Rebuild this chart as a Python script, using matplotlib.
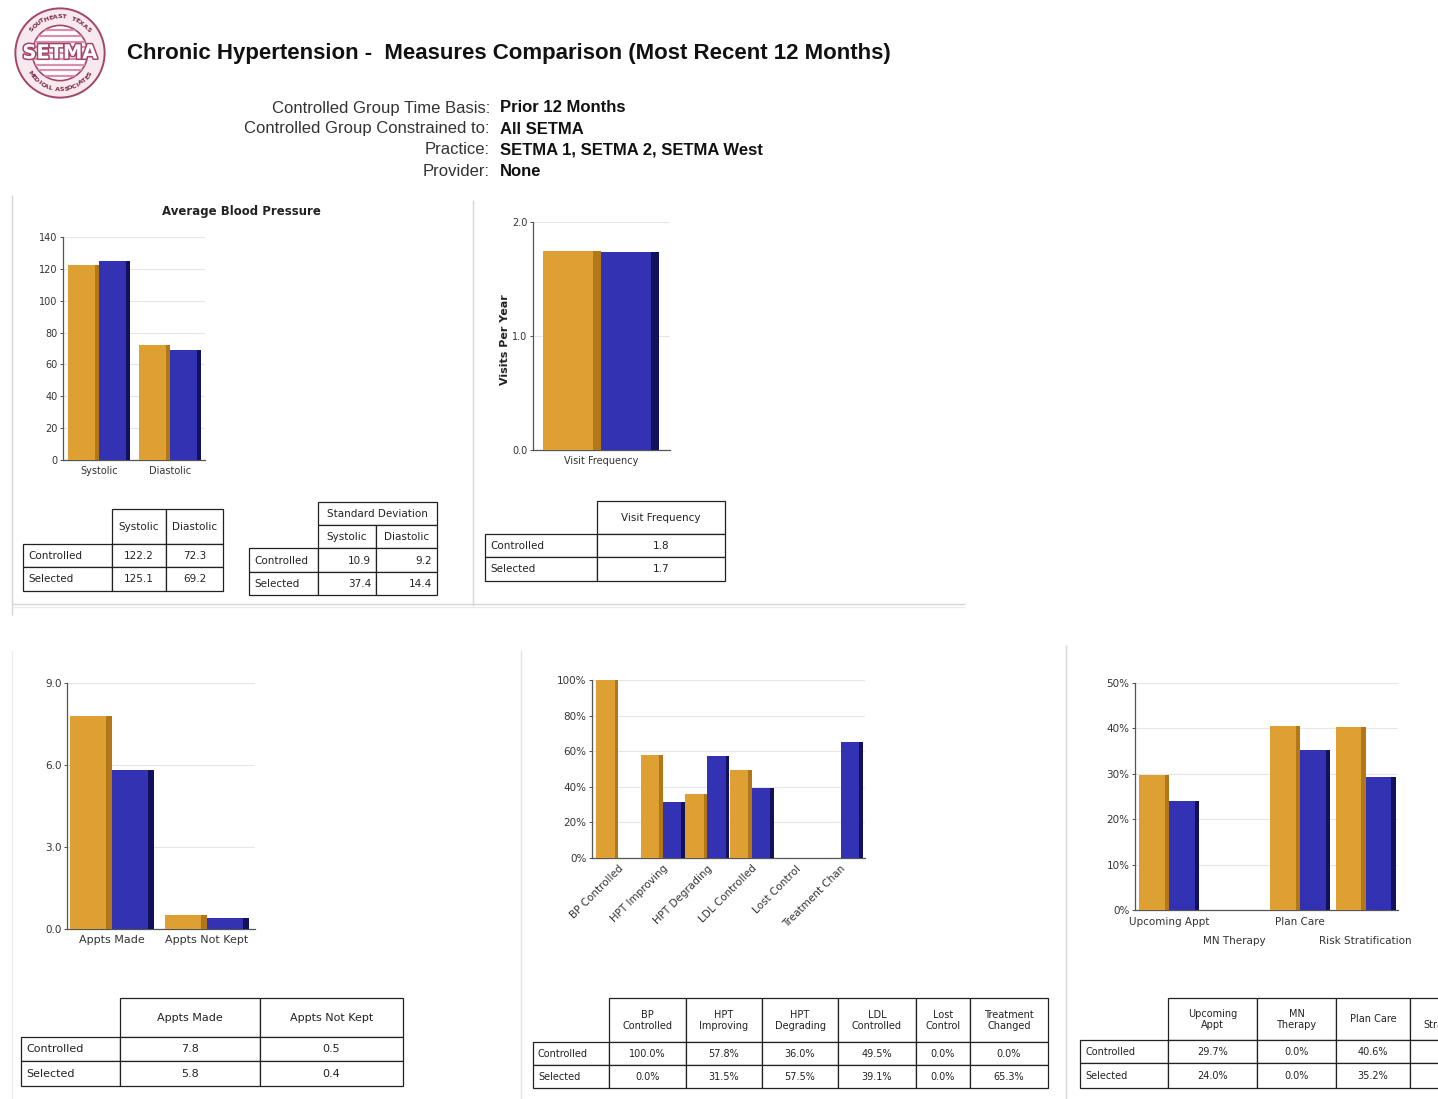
import numpy as np
import matplotlib.pyplot as plt
import matplotlib.patheffects as pe
from matplotlib.patches import Rectangle, Circle

W, H = 1438, 1099

ORANGE = '#DFA033'
ORANGE_EDGE = '#B27818'
BLUE = '#3232B2'
BLUE_EDGE = '#12125C'
INK = '#222222'
FRAME = '#d6d6d6'

# ---- data ----
row_labels = ['Controlled', 'Selected']

bp_labels = ['Systolic', 'Diastolic']
bp_controlled = [122.2, 72.3]
bp_selected = [125.1, 69.2]
sd_controlled = [10.9, 9.2]
sd_selected = [37.4, 14.4]

visit_labels = ['Visit Frequency']
visit_controlled = [1.75]
visit_selected = [1.74]

appt_labels = ['Appts Made', 'Appts Not Kept']
appt_controlled = [7.8, 0.5]
appt_selected = [5.8, 0.4]

measure_labels = ['BP Controlled', 'HPT Improving', 'HPT Degrading',
                  'LDL Controlled', 'Lost Control', 'Treatment Chan']
measure_heads = ['BP\nControlled', 'HPT\nImproving', 'HPT\nDegrading',
                 'LDL\nControlled', 'Lost\nControl', 'Treatment\nChanged']
measure_controlled = [100.0, 57.8, 36.0, 49.5, 0.0, 0.0]
measure_selected = [0.0, 31.5, 57.5, 39.1, 0.0, 65.3]

care_labels = ['Upcoming Appt', 'MN Therapy', 'Plan Care', 'Risk Stratification']
care_heads = ['Upcoming\nAppt', 'MN\nTherapy', 'Plan Care', 'Risk\nStratification']
care_controlled = [29.7, 0.0, 40.6, 40.4]
care_selected = [24.0, 0.0, 35.2, 29.3]

info_keys = ['Controlled Group Time Basis:', 'Controlled Group Constrained to:',
             'Practice:', 'Provider:']
info_values = ['Prior 12 Months', 'All SETMA', 'SETMA 1, SETMA 2, SETMA West', 'None']


def box(x0, y0, x1, y1):
    """pixel box (top-left origin) -> figure fraction rect"""
    return [x0 / W, 1 - y1 / H, (x1 - x0) / W, (y1 - y0) / H]


fig = plt.figure(figsize=(W / 100, H / 100), dpi=100)
fig.patch.set_facecolor('white')

page = fig.add_axes([0, 0, 1, 1])
page.set_xlim(0, W)
page.set_ylim(H, 0)
page.axis('off')


def hline(y, x0, x1, color=FRAME, lw=1.0):
    page.plot([x0, x1], [y, y], color=color, lw=lw, solid_capstyle='butt')


def vline(x, y0, y1, color=FRAME, lw=1.0):
    page.plot([x, x], [y0, y1], color=color, lw=lw, solid_capstyle='butt')


# panel frames
vline(12, 195, 615)
vline(473, 200, 606)
hline(604, 12, 965)
hline(607, 12, 965, color='#ececec')
vline(12, 650, 1099, color='#ececec')
vline(521, 650, 1099, color='#e4e4e4')
vline(1066, 645, 1099)

# ---- logo ----
logo = fig.add_axes(box(14, 7, 106, 99))
logo.set_xlim(-1, 1)
logo.set_ylim(-1, 1)
logo.set_aspect('equal')
logo.axis('off')
mauve = '#a3456a'
logo.add_patch(Circle((0, 0), 0.97, fc='#f7e9ee', ec=mauve, lw=1.4))
inner = Circle((0, 0), 0.6, fc='white', ec=mauve, lw=1.2)
logo.add_patch(inner)
for yy in np.linspace(-0.5, 0.5, 9):
    ln, = logo.plot([-0.62, 0.62], [yy, yy], color='#d98fab', lw=1.6)
    ln.set_clip_path(inner)
logo.text(0, 0.0, 'SETMA', ha='center', va='center', fontsize=14, fontweight='bold',
          color='white', path_effects=[pe.withStroke(linewidth=2.2, foreground=mauve)])


def arc_text(text, r, a0, a1, upper=True):
    angs = np.linspace(a0, a1, len(text))
    for ch, a in zip(text, angs):
        rad = np.deg2rad(a)
        rot = a - 90 if upper else a + 90
        logo.text(r * np.cos(rad), r * np.sin(rad), ch, rotation=rot, ha='center',
                  va='center', fontsize=4.6, fontweight='bold', color='#7a2a48')


arc_text('SOUTHEAST TEXAS', 0.79, 140, 40, upper=True)
arc_text('MEDICAL ASSOCIATES', 0.79, 215, 325, upper=False)

# ---- heading ----
page.text(127, 53, 'Chronic Hypertension -  Measures Comparison (Most Recent 12 Months)',
          ha='left', va='center', fontsize=16, fontweight='bold', color='#111111',
          family='Liberation Sans')
for i, (k, v) in enumerate(zip(info_keys, info_values)):
    y = 108 + 21 * i
    page.text(490, y, k, ha='right', va='center', fontsize=12, color='#333333',
              family='Liberation Sans')
    page.text(500, y, v, ha='left', va='center', fontsize=12, fontweight='bold',
              color='#111111', family='Liberation Sans')


# ---- bar charts ----
def bar_panel(x0, x1, y_top, y_zero, c0, pitch, bar_px, ymax, yticks, fmt,
              cats, ctrl, sel, tick_size=7, label_size=7):
    ax = fig.add_axes(box(x0, y_top, x1, y_zero))
    ax.set_facecolor('none')
    x = np.arange(len(cats))
    w = bar_px / pitch
    s = w * 0.14
    ax.bar(x - w / 2, ctrl, w, color=ORANGE, zorder=3)
    ax.bar(x - s / 2, ctrl, s, color=ORANGE_EDGE, zorder=3)
    ax.bar(x + w / 2, sel, w, color=BLUE, zorder=3)
    ax.bar(x + w - s / 2, sel, s, color=BLUE_EDGE, zorder=3)
    ax.set_xlim((x0 - c0) / pitch, (x1 - c0) / pitch)
    ax.set_ylim(0, ymax)
    ax.set_yticks(yticks)
    ax.set_yticklabels([fmt(t) for t in yticks])
    ax.set_xticks(x)
    ax.set_xticklabels(cats)
    ax.yaxis.grid(True, color='#e6e6e6', lw=0.8, zorder=0)
    ax.set_axisbelow(True)
    for side in ('top', 'right'):
        ax.spines[side].set_visible(False)
    for side in ('left', 'bottom'):
        ax.spines[side].set_color('#555555')
        ax.spines[side].set_linewidth(0.9)
    ax.tick_params(axis='y', length=2, width=0.6, pad=2, labelsize=tick_size,
                   colors='#333333')
    ax.tick_params(axis='x', which='both', length=0, pad=4, labelsize=label_size,
                   labelcolor='#333333')
    return ax


bp_ax = bar_panel(63, 205, 237, 460, 99, 71, 31, 140, list(range(0, 141, 20)),
                  lambda t: f'{t:d}', bp_labels, bp_controlled, bp_selected,
                  tick_size=7, label_size=7)
page.text(241, 211, 'Average Blood Pressure', ha='center', va='center', fontsize=8.5,
          fontweight='bold', color='#222222')

visit_ax = bar_panel(533, 670, 222, 450, 601, 137, 58, 2.0, [0.0, 1.0, 2.0],
                     lambda t: f'{t:.1f}', visit_labels, visit_controlled, visit_selected,
                     tick_size=7, label_size=7)
page.text(505, 340, 'Visits Per Year', ha='center', va='center', rotation=90,
          fontsize=8, fontweight='bold', color='#222222')

appt_ax = bar_panel(67, 255, 683, 929, 112, 95, 42, 9.0, [0.0, 3.0, 6.0, 9.0],
                    lambda t: f'{t:.1f}', appt_labels, appt_controlled, appt_selected,
                    tick_size=7.5, label_size=8)

meas_ax = bar_panel(592, 865, 680, 858, 618, 44.5, 22, 100, list(range(0, 101, 20)),
                    lambda t: f'{t:d}%', measure_labels, measure_controlled,
                    measure_selected, tick_size=7.5, label_size=7.5)
for lab in meas_ax.get_xticklabels():
    lab.set_rotation(45)
    lab.set_ha('right')
    lab.set_rotation_mode('anchor')

care_ax = bar_panel(1135, 1398, 683, 910, 1169, 65.5, 30, 50, list(range(0, 51, 10)),
                    lambda t: f'{t:d}%', care_labels, care_controlled, care_selected,
                    tick_size=7.5, label_size=7.5)
# staggered category labels: even ones on the first line, odd ones below
care_x = np.arange(len(care_labels))
care_ax.set_xticks(care_x[::2])
care_ax.set_xticklabels(care_labels[::2])
care_ax.set_xticks(care_x[1::2], minor=True)
care_ax.set_xticklabels(care_labels[1::2], minor=True)
care_ax.tick_params(axis='x', which='major', pad=5)
care_ax.tick_params(axis='x', which='minor', pad=19)


# ---- tables ----
def cell(x0, y0, x1, y1, text, align, size):
    page.add_patch(Rectangle((x0, y0), x1 - x0, y1 - y0, fc='white', ec=INK, lw=0.9,
                             zorder=2))
    if align == 'left':
        tx = x0 + 5
    elif align == 'right':
        tx = x1 - 5
    else:
        tx = (x0 + x1) / 2
    page.text(tx, (y0 + y1) / 2 + 0.5, text, ha=align, va='center', fontsize=size,
              color=INK, linespacing=1.05, zorder=3)


def draw_table(xs, ys, headers, values, fmt, align='center', size=7.5):
    """headers: list of header rows, each a list of (text, span)."""
    nh = len(headers)
    for r, hrow in enumerate(headers):
        c = 1
        for text, span in hrow:
            cell(xs[c], ys[r], xs[c + span], ys[r + 1], text, 'center', size)
            c += span
    for i, (lab, vals) in enumerate(zip(row_labels, values)):
        y0, y1 = ys[nh + i], ys[nh + i + 1]
        cell(xs[0], y0, xs[1], y1, lab, 'left', size)
        for j, v in enumerate(vals):
            cell(xs[j + 1], y0, xs[j + 2], y1, fmt(v), align, size)


one_dec = lambda v: f'{v:.1f}'
pct = lambda v: f'{v:.1f}%'

draw_table([23, 112, 166, 223], [509, 544, 567, 591],
           [[(b, 1) for b in bp_labels]], [bp_controlled, bp_selected], one_dec)
draw_table([249, 318, 376, 437], [502, 525, 548, 572, 595],
           [[('Standard Deviation', 2)], [(b, 1) for b in bp_labels]],
           [sd_controlled, sd_selected], one_dec, align='right')
draw_table([485, 597, 725], [501, 534, 557, 581],
           [[(v, 1) for v in visit_labels]], [visit_controlled, visit_selected], one_dec)
draw_table([21, 120, 260, 403], [998, 1037, 1061, 1086],
           [[(a, 1) for a in appt_labels]], [appt_controlled, appt_selected], one_dec,
           size=8)
draw_table([533, 609, 686, 762, 838, 916, 970, 1048], [998, 1042, 1065, 1088],
           [[(m, 1) for m in measure_heads]], [measure_controlled, measure_selected], pct,
           size=7)
draw_table([1080, 1168, 1257, 1336, 1410, 1500], [998, 1040, 1063, 1088],
           [[(c, 1) for c in care_heads]], [care_controlled, care_selected], pct, size=7)

fig.savefig('out.png', dpi=100, facecolor='white')
